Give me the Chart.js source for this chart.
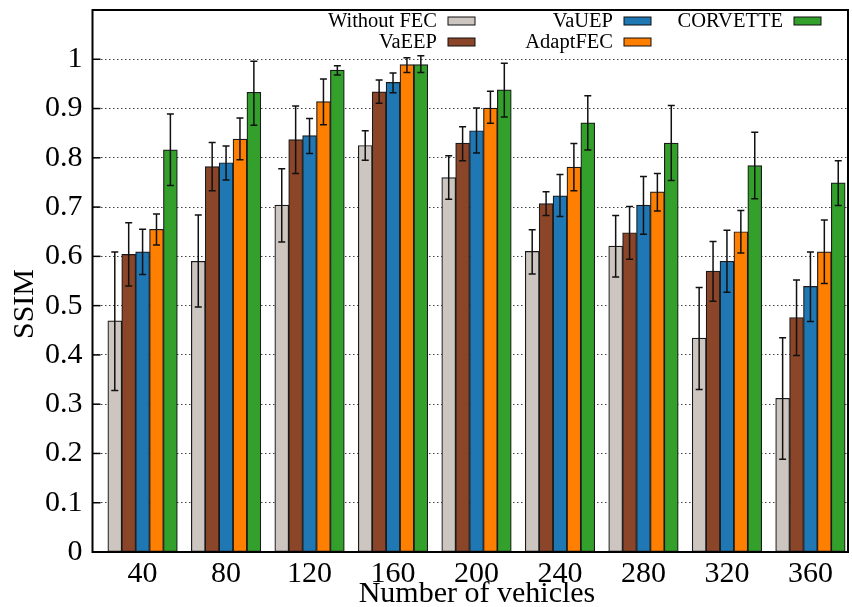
<!DOCTYPE html>
<html lang="en">
<head>
  <meta charset="UTF-8">
  <title>SSIM vs number of vehicles</title>
  <style>
    body {
      margin: 0;
      padding: 0;
      background-color: white;
    }
    .chart-box {
      width: 852px;
      height: 607px;
    }
  </style>
</head>
<body>
  <div class="chart-box">
    <canvas id="ssimChart" width="852" height="607"></canvas>
  </div>

  <script src="https://cdn.jsdelivr.net/npm/chart.js"></script>
  <script>
    const categories = ['40', '80', '120', '160', '200', '240', '280', '320', '360'];

    const withoutFec   = [0.469, 0.590, 0.704, 0.825, 0.760, 0.610, 0.621, 0.434, 0.312];
    const withoutFecLo = [0.328, 0.497, 0.629, 0.795, 0.716, 0.564, 0.558, 0.330, 0.188];
    const withoutFecHi = [0.609, 0.684, 0.778, 0.855, 0.804, 0.654, 0.683, 0.537, 0.435];

    const vaeep   = [0.604, 0.782, 0.837, 0.934, 0.830, 0.707, 0.648, 0.570, 0.476];
    const vaeepLo = [0.540, 0.733, 0.768, 0.911, 0.794, 0.683, 0.594, 0.509, 0.399];
    const vaeepHi = [0.668, 0.831, 0.905, 0.958, 0.863, 0.731, 0.701, 0.630, 0.552];

    const vauep   = [0.609, 0.790, 0.845, 0.953, 0.855, 0.723, 0.704, 0.590, 0.539];
    const vauepLo = [0.563, 0.755, 0.809, 0.932, 0.810, 0.681, 0.645, 0.527, 0.468];
    const vauepHi = [0.655, 0.824, 0.880, 0.972, 0.901, 0.766, 0.762, 0.653, 0.609];

    const adaptFec   = [0.655, 0.838, 0.914, 0.989, 0.901, 0.781, 0.731, 0.650, 0.609];
    const adaptFecLo = [0.623, 0.796, 0.867, 0.973, 0.870, 0.733, 0.692, 0.607, 0.545];
    const adaptFecHi = [0.686, 0.881, 0.960, 1.003, 0.935, 0.829, 0.768, 0.693, 0.674];

    const corvette   = [0.816, 0.933, 0.978, 0.989, 0.938, 0.871, 0.830, 0.784, 0.749];
    const corvetteLo = [0.744, 0.866, 0.968, 0.973, 0.883, 0.816, 0.754, 0.717, 0.703];
    const corvetteHi = [0.889, 0.996, 0.987, 1.007, 0.992, 0.926, 0.906, 0.852, 0.794];

    const yTicks = [0, 0.1, 0.2, 0.3, 0.4, 0.5, 0.6, 0.7, 0.8, 0.9, 1];

    const serif = "'Liberation Serif', 'DejaVu Serif', serif";

    function makeSeries(label, values, lo, hi, color) {
      return {
        label: label,
        data: values.map((v, i) => ({ x: i, y: v })),
        errLo: lo,
        errHi: hi,
        backgroundColor: color,
        borderColor: '#1a1a1a',
        borderWidth: 1.2,
        borderSkipped: false,
        barThickness: 13.9,
      };
    }

    // error bars with caps, drawn on top of the bars
    const errorBars = {
      id: 'errorBars',
      afterDatasetsDraw(chart) {
        const ctx = chart.ctx;
        const y = chart.scales.y;
        ctx.save();
        ctx.strokeStyle = '#111';
        ctx.lineWidth = 1.5;
        chart.data.datasets.forEach((ds, di) => {
          const meta = chart.getDatasetMeta(di);
          meta.data.forEach((bar, j) => {
            const top = y.getPixelForValue(ds.errHi[j]);
            const bottom = y.getPixelForValue(ds.errLo[j]);
            ctx.beginPath();
            ctx.moveTo(bar.x, top);
            ctx.lineTo(bar.x, bottom);
            ctx.moveTo(bar.x - 3.5, top);
            ctx.lineTo(bar.x + 3.5, top);
            ctx.moveTo(bar.x - 3.5, bottom);
            ctx.lineTo(bar.x + 3.5, bottom);
            ctx.stroke();
          });
        });
        ctx.restore();
      }
    };

    // frame, inward y ticks, axis titles and the key
    const decorations = {
      id: 'decorations',
      afterDraw(chart) {
        const ctx = chart.ctx;
        const area = chart.chartArea;
        const y = chart.scales.y;
        ctx.save();

        ctx.strokeStyle = '#000';
        ctx.lineWidth = 2;
        ctx.strokeRect(area.left, area.top, area.right - area.left, area.bottom - area.top);

        ctx.lineWidth = 1.5;
        yTicks.forEach(t => {
          const py = y.getPixelForValue(t);
          ctx.beginPath();
          ctx.moveTo(area.left, py);
          ctx.lineTo(area.left + 8, py);
          ctx.stroke();
        });

        ctx.fillStyle = '#000';
        ctx.font = '30px ' + serif;
        ctx.textAlign = 'center';
        ctx.textBaseline = 'middle';
        ctx.fillText('Number of vehicles', 477, 594);

        ctx.save();
        ctx.translate(25, 304);
        ctx.rotate(-Math.PI / 2);
        ctx.fillText('SSIM', 0, 0);
        ctx.restore();

        // key: three columns, two rows, text right-aligned before the swatch
        const colRight = [437, 613, 783];
        const rowY = [21, 42];
        ctx.font = '20.5px ' + serif;
        ctx.textAlign = 'right';
        chart.data.datasets.forEach((ds, i) => {
          const col = Math.floor(i / 2);
          const row = i % 2;
          const tx = colRight[col];
          const ty = rowY[row];
          ctx.fillStyle = '#000';
          ctx.fillText(ds.label, tx, ty + 1);
          ctx.fillStyle = ds.backgroundColor;
          ctx.fillRect(tx + 11, ty - 4, 27, 8);
          ctx.strokeStyle = '#111';
          ctx.lineWidth = 1;
          ctx.strokeRect(tx + 11, ty - 4, 27, 8);
        });

        ctx.restore();
      }
    };

    new Chart(document.getElementById('ssimChart'), {
      type: 'bar',
      data: {
        datasets: [
          makeSeries('Without FEC', withoutFec, withoutFecLo, withoutFecHi, '#cdc5bf'),
          makeSeries('VaEEP', vaeep, vaeepLo, vaeepHi, '#8b4528'),
          makeSeries('VaUEP', vauep, vauepLo, vauepHi, '#1f77b4'),
          makeSeries('AdaptFEC', adaptFec, adaptFecLo, adaptFecHi, '#ff7f00'),
          makeSeries('CORVETTE', corvette, corvetteLo, corvetteHi, '#33a02c'),
        ],
      },
      options: {
        responsive: false,
        animation: false,
        layout: {
          padding: { top: 10, right: 4, left: 0, bottom: 0 },
        },
        plugins: {
          legend: { display: false },
          tooltip: { enabled: false },
        },
        scales: {
          x: {
            type: 'linear',
            min: -0.6,
            max: 8.45,
            offset: false,
            grid: { display: false, drawTicks: false },
            border: { display: false },
            afterBuildTicks: scale => {
              scale.ticks = categories.map((c, i) => ({ value: i }));
            },
            afterFit: scale => {
              scale.height = 55;
              scale.paddingLeft = 0;
              scale.paddingRight = 0;
            },
            ticks: {
              padding: 4,
              color: '#000',
              font: { family: serif, size: 30 },
              callback: value => categories[value],
            },
          },
          y: {
            min: 0,
            max: 1.1,
            afterBuildTicks: scale => {
              scale.ticks = yTicks.map(v => ({ value: v }));
            },
            afterFit: scale => {
              scale.width = 92.5;
              scale.paddingTop = 0;
              scale.paddingBottom = 0;
            },
            grid: {
              drawTicks: false,
              color: '#444',
              lineWidth: 1,
            },
            border: { display: false, dash: [1.5, 2.5] },
            ticks: {
              padding: 10,
              color: '#000',
              font: { family: serif, size: 30 },
              callback: value => String(+value.toFixed(1)),
            },
          },
        },
      },
      plugins: [errorBars, decorations],
    });
  </script>
</body>
</html>
